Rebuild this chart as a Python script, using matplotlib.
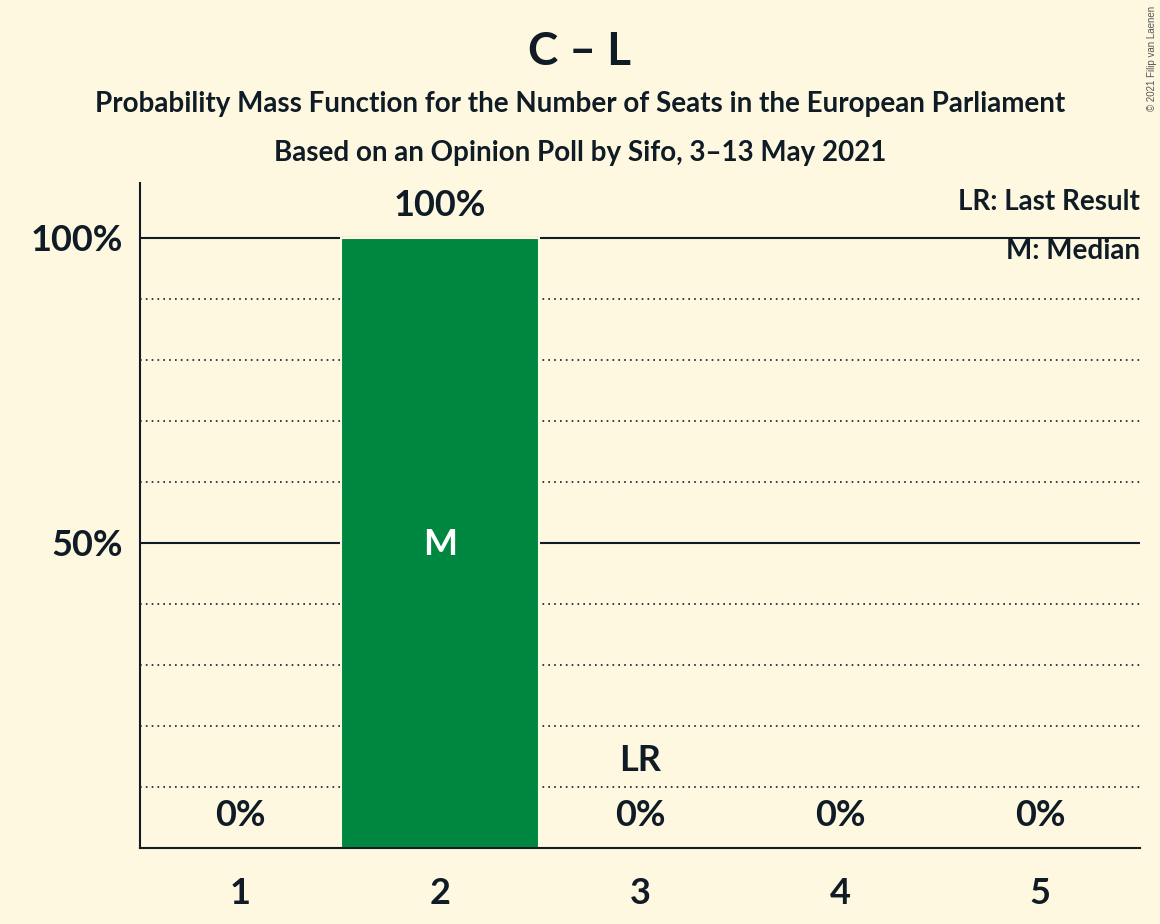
import matplotlib
matplotlib.use("Agg")
import matplotlib.pyplot as plt

plt.rcParams['font.family'] = ['Lato', 'DejaVu Sans']

seats = [1, 2, 3, 4, 5]
probs = [0.0, 1.0, 0.0, 0.0, 0.0]
bar_labels = ["0%", "100%", "0%", "0%", "0%"]
median_seat = 2
last_result_seat = 3

bg = "#FFF8E1"
ink = "#0F1C26"
green = "#00873F"

fig = plt.figure(figsize=(11.6, 9.24), dpi=100, facecolor=bg)
ax = fig.add_axes([140/1160, 1 - 848/924, 1000/1160, (848-183)/924])
ax.set_facecolor(bg)

# grid
for y in [0.1, 0.2, 0.3, 0.4, 0.6, 0.7, 0.8, 0.9]:
    ax.axhline(y, color=ink, lw=1.2, ls=(0, (1, 2.5)), zorder=1)
for y in [0.5, 1.0]:
    ax.axhline(y, color=ink, lw=1.5, zorder=1)

ax.bar(seats, probs, width=0.99, color=green, edgecolor=bg, linewidth=1.5, zorder=2)

for s, p, lab in zip(seats, probs, bar_labels):
    ax.text(s, p + 0.026, lab, ha="center", va="bottom", fontsize=26,
            fontweight="bold", color=ink, zorder=3)

ax.text(median_seat, 0.497, "M", ha="center", va="center", fontsize=26,
        fontweight="bold", color="white", zorder=3)
ax.text(last_result_seat, 0.144, "LR", ha="center", va="center", fontsize=26,
        fontweight="bold", color=ink, zorder=3)

ax.set_xlim(0.5, 5.5)
ax.set_ylim(0, 1.09)
ax.set_xticks(seats)
ax.set_xticklabels([str(s) for s in seats])
ax.set_yticks([0.5, 1.0])
ax.set_yticklabels(["50%", "100%"])
ax.tick_params(axis="both", length=0, labelsize=26, colors=ink)
for lab in ax.get_xticklabels() + ax.get_yticklabels():
    lab.set_fontweight("bold")
ax.tick_params(axis="x", pad=21)
ax.tick_params(axis="y", pad=12)

for side in ["top", "right"]:
    ax.spines[side].set_visible(False)
for side in ["left", "bottom"]:
    ax.spines[side].set_color(ink)
    ax.spines[side].set_linewidth(1.5)

ax.text(1.0, 0.9715, "LR: Last Result", transform=ax.transAxes, ha="right",
        va="center", fontsize=20, fontweight="bold", color=ink)
ax.text(1.0, 0.898, "M: Median", transform=ax.transAxes, ha="right",
        va="center", fontsize=20, fontweight="bold", color=ink)

fig.text(0.5, 1 - 52/924, "C – L", ha="center", va="center", fontsize=33,
         fontweight="bold", color=ink)
fig.text(0.5, 1 - 104/924,
         "Probability Mass Function for the Number of Seats in the European Parliament",
         ha="center", va="center", fontsize=20, fontweight="bold", color=ink)
fig.text(0.5, 1 - 153/924, "Based on an Opinion Poll by Sifo, 3–13 May 2021",
         ha="center", va="center", fontsize=20, fontweight="bold", color=ink)
fig.text(1152/1160, 1 - 58/924, "© 2021 Filip van Laenen", rotation=90,
         ha="center", va="center", fontsize=7, color="#555555",
         family=["Liberation Sans", "DejaVu Sans"])

fig.savefig("out.png", dpi=100, facecolor=bg)
